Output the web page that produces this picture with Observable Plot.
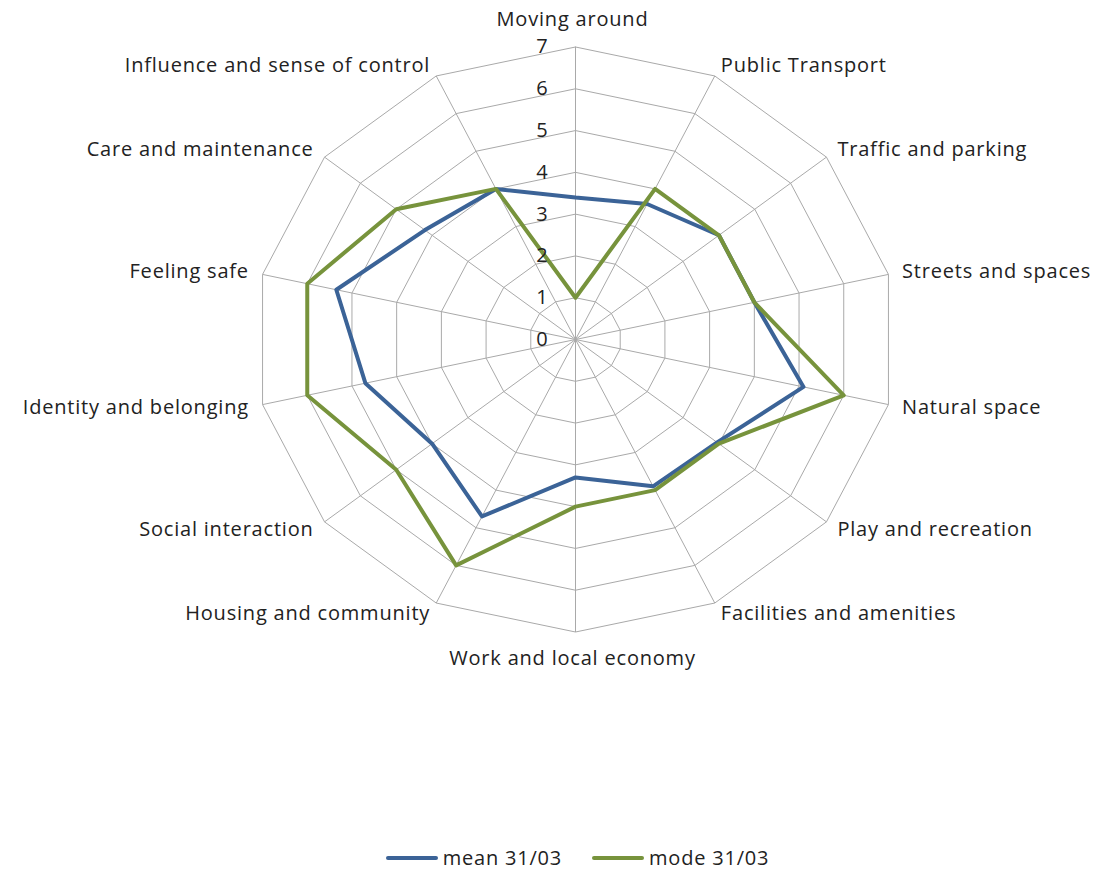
<!DOCTYPE html>
<html><head><meta charset="utf-8">
<script src="https://cdn.jsdelivr.net/npm/d3@7"></script>
<script src="https://cdn.jsdelivr.net/npm/@observablehq/plot@0.6"></script>
<style>
body{margin:0;background:#fff;font-family:"Open Sans",sans-serif;}
#legend{width:1097px;height:42px;display:flex;justify-content:center;align-items:center;padding-top:13px;padding-left:58px;box-sizing:border-box;font-size:20px;color:#222;letter-spacing:0.8px;}
.item{display:flex;align-items:center;margin:0 15px;}
.swatch{width:52px;height:4px;border-radius:2px;margin-right:5px;}
</style>
</head><body><div id="chart"></div><div id="legend"></div><script>
const categories = ["Moving around","Public Transport","Traffic and parking","Streets and spaces","Natural space","Play and recreation","Facilities and amenities","Work and local economy","Housing and community","Social interaction","Identity and belonging","Feeling safe","Care and maintenance","Influence and sense of control"];
const meanValues = [3.4, 3.6, 4.0, 4.0, 5.1, 3.95, 3.9, 3.3, 4.7, 4.0, 4.7, 5.35, 4.2, 4.0];
const modeValues = [1, 4, 4, 4, 6, 4, 4, 4, 6, 5, 6, 6, 5, 4];
const tickValues = [0, 1, 2, 3, 4, 5, 6, 7];
const seriesNames = ["mean 31/03", "mode 31/03"];
const seriesColors = ["#3b6397", "#77933c"];

const n = categories.length, rMax = 7;
const ang = i => i * 2 * Math.PI / n;
const cx = 575, cy = 339, rx = 321, ry = 292.5;
const sx = rx / rMax, sy = ry / rMax;
const px = (i, r) => r * Math.sin(ang(i));
const py = (i, r) => r * Math.cos(ang(i));

const gridRows = [];
for (let lv = 1; lv <= rMax; lv++) for (let i = 0; i <= n; i++) gridRows.push({lv, x: px(i % n, lv), y: py(i % n, lv)});
const spokes = categories.map((c, i) => ({x1: 0, y1: 0, x2: px(i, rMax), y2: py(i, rMax)}));
const seriesRows = [];
[meanValues, modeValues].forEach((vals, s) => {
  for (let i = 0; i <= n; i++) seriesRows.push({series: seriesNames[s], x: px(i % n, vals[i % n]), y: py(i % n, vals[i % n])});
});
const labelRows = categories.map((c, i) => {
  const s = Math.sin(ang(i)), co = Math.cos(ang(i));
  let lx = px(i, rMax) + 14 * s / sx;
  let ly = py(i, rMax) + 12 * co / sy;
  let anchor = s > 0.01 ? "start" : s < -0.01 ? "end" : "middle";
  if (anchor === "middle") { ly = py(i, rMax) + Math.sign(co) * 27 / sy; lx = -3 / sx; }
  return {c, lx, ly, anchor};
});

const chart = Plot.plot({
  width: 1097, height: 830, margin: 0,
  style: {fontFamily: "'Open Sans', sans-serif", fontSize: "20px", color: "#222", background: "#fff", letterSpacing: "0.8px"},
  x: {domain: [-rMax, rMax], range: [cx - rx, cx + rx], axis: null},
  y: {domain: [-rMax, rMax], range: [cy + ry, cy - ry], axis: null},
  color: {domain: seriesNames, range: seriesColors},
  marks: [
    Plot.line(gridRows, {x: "x", y: "y", z: "lv", stroke: "#a9a9a9", strokeWidth: 1}),
    Plot.link(spokes, {x1: "x1", y1: "y1", x2: "x2", y2: "y2", stroke: "#a9a9a9", strokeWidth: 1}),
    Plot.line(seriesRows, {x: "x", y: "y", z: "series", stroke: "series", strokeWidth: 4, strokeLinejoin: "round"}),
    Plot.text(tickValues, {x: () => 0, y: d => d, text: d => String(d), dx: -27, textAnchor: "end", fontSize: 20, fill: "#222"}),
    ...["start", "end", "middle"].map(a => Plot.text(labelRows.filter(d => d.anchor === a), {x: "lx", y: "ly", text: "c", textAnchor: a, fontSize: 20, fill: "#222"}))
  ]
});
document.getElementById("chart").appendChild(chart);
const lg = document.getElementById("legend");
seriesNames.forEach((nm, i) => {
  const it = document.createElement("div"); it.className = "item";
  const sw = document.createElement("div"); sw.className = "swatch"; sw.style.background = seriesColors[i];
  const tx = document.createElement("span"); tx.textContent = nm;
  it.appendChild(sw); it.appendChild(tx); lg.appendChild(it);
});
</script></body></html>
